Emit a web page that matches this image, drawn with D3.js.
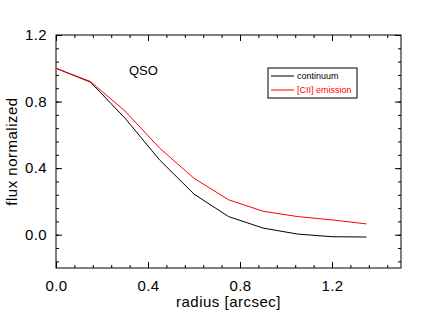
<!DOCTYPE html>
<html>
  <body style="margin:0;background:#fff">
    <style>
      text { font-family: "Liberation Sans", Arial, sans-serif; }
    </style>
    <script src="https://d3js.org/d3.v7.min.js"></script>
    <script type="text/javascript">
      const radius = [0.0, 0.15, 0.3, 0.45, 0.6, 0.75, 0.9, 1.05, 1.2, 1.35];
      const continuum = [1.0, 0.917, 0.70, 0.45, 0.244, 0.109, 0.04, 0.004, -0.012, -0.014];
      const ciiEmission = [1.0, 0.92, 0.743, 0.521, 0.339, 0.21, 0.141, 0.109, 0.089, 0.065];
      const xTicks = [0.0, 0.4, 0.8, 1.2];
      const yTicks = [0.0, 0.4, 0.8, 1.2];
      const seriesNames = ['continuum', '[CII] emission'];
      const colors = ['#000000', '#ff0000'];

      const width = 436, height = 310;
      const plotLeft = 56, plotRight = 401, plotTop = 35, plotBottom = 268;

      const svg = d3.select('body').append('svg')
        .attr('width', width)
        .attr('height', height);

      const x = d3.scaleLinear().domain([0, 1.5]).range([plotLeft, plotRight]);
      const y = d3.scaleLinear().domain([-0.2, 1.2]).range([plotBottom, plotTop]);

      const xMinor = d3.range(0, 1.5001, 0.08);
      const yMinor = d3.range(-0.16, 1.2001, 0.08);

      // frame
      svg.append('rect')
        .attr('x', plotLeft).attr('y', plotTop)
        .attr('width', plotRight - plotLeft).attr('height', plotBottom - plotTop)
        .attr('fill', 'none').attr('stroke', '#000').attr('stroke-width', 1);

      const fmt = d3.format('.1f');

      // bottom / top axes
      const bottomAxis = d3.axisBottom(x).tickValues(xTicks).tickFormat(fmt).tickSizeInner(-6).tickSizeOuter(0).tickPadding(12);
      svg.append('g').attr('transform', `translate(0,${plotBottom})`).call(bottomAxis);
      const topAxis = d3.axisTop(x).tickValues(xTicks).tickFormat('').tickSizeInner(-6).tickSizeOuter(0);
      svg.append('g').attr('transform', `translate(0,${plotTop})`).call(topAxis);
      const bMinor = d3.axisBottom(x).tickValues(xMinor).tickFormat('').tickSizeInner(-3).tickSizeOuter(0);
      svg.append('g').attr('transform', `translate(0,${plotBottom})`).call(bMinor);
      const tMinor = d3.axisTop(x).tickValues(xMinor).tickFormat('').tickSizeInner(-3).tickSizeOuter(0);
      svg.append('g').attr('transform', `translate(0,${plotTop})`).call(tMinor);

      // left / right axes
      const leftAxis = d3.axisLeft(y).tickValues(yTicks).tickFormat(fmt).tickSizeInner(-6).tickSizeOuter(0).tickPadding(9);
      svg.append('g').attr('transform', `translate(${plotLeft},0)`).call(leftAxis);
      const rightAxis = d3.axisRight(y).tickValues(yTicks).tickFormat('').tickSizeInner(-6).tickSizeOuter(0);
      svg.append('g').attr('transform', `translate(${plotRight},0)`).call(rightAxis);
      const lMinor = d3.axisLeft(y).tickValues(yMinor).tickFormat('').tickSizeInner(-3).tickSizeOuter(0);
      svg.append('g').attr('transform', `translate(${plotLeft},0)`).call(lMinor);
      const rMinor = d3.axisRight(y).tickValues(yMinor).tickFormat('').tickSizeInner(-3).tickSizeOuter(0);
      svg.append('g').attr('transform', `translate(${plotRight},0)`).call(rMinor);

      svg.selectAll('.domain').remove();
      svg.selectAll('.tick line').attr('stroke', '#000');
      svg.selectAll('.tick text')
        .attr('fill', '#000')
        .style('font-size', '15px')
        .style('letter-spacing', '0.4px')
        .style('font-family', '"Liberation Sans", Arial, sans-serif');

      // axis titles
      svg.append('text')
        .attr('x', (plotLeft + plotRight) / 2).attr('y', 307)
        .attr('text-anchor', 'middle')
        .style('font-size', '15px')
        .style('letter-spacing', '0.5px')
        .text('radius [arcsec]');
      svg.append('text')
        .attr('transform', `translate(17,${(plotTop + plotBottom) / 2}) rotate(-90)`)
        .attr('text-anchor', 'middle')
        .style('font-size', '15px')
        .style('letter-spacing', '0.5px')
        .text('flux normalized');

      // series
      const line = d3.line().x((d, i) => x(radius[i])).y(d => y(d));
      [continuum, ciiEmission].forEach((vals, i) => {
        svg.append('path')
          .datum(vals)
          .attr('fill', 'none')
          .attr('stroke', colors[i])
          .attr('stroke-width', 1)
          .attr('d', line);
      });

      svg.append('text')
        .attr('x', 129).attr('y', 75)
        .style('font-size', '13px')
        .text('QSO');

      // legend
      const lg = svg.append('g');
      lg.append('rect')
        .attr('x', 268).attr('y', 68).attr('width', 89).attr('height', 30)
        .attr('fill', '#fff').attr('stroke', '#000').attr('stroke-width', 1);
      seriesNames.forEach((name, i) => {
        const yy = 76 + i * 14;
        lg.append('line')
          .attr('x1', 271).attr('x2', 294).attr('y1', yy).attr('y2', yy)
          .attr('stroke', colors[i]);
        lg.append('text')
          .attr('x', 297).attr('y', yy + 3)
          .attr('fill', colors[i])
          .style('font-size', '9px')
          .text(name);
      });
    </script>
  </body>
</html>
